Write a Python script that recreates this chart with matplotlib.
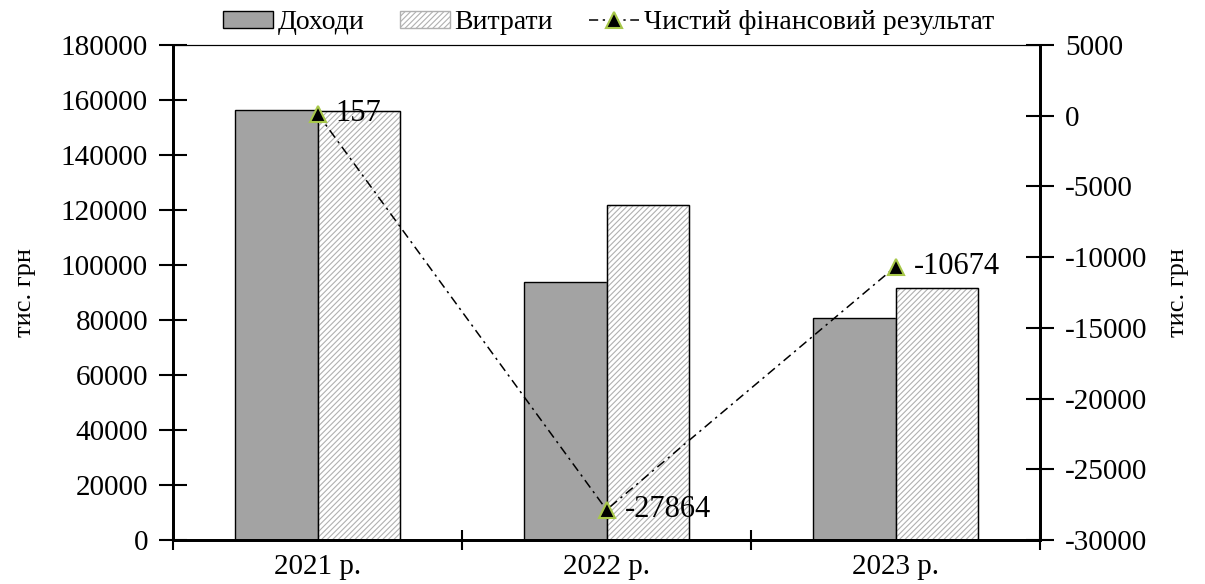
import matplotlib.pyplot as plt
import numpy as np

plt.rcParams['font.family'] = ['Liberation Serif', 'DejaVu Serif']
plt.rcParams['axes.unicode_minus'] = False

years = ['2021 р.', '2022 р.', '2023 р.']
income = [156250, 94000, 80800]
expenses = [156093, 121864, 91474]
net_result = [157, -27864, -10674]

fig = plt.figure(figsize=(12.05, 5.84), dpi=100)
ax = fig.add_axes([0.1436, 0.0753, 0.7195, 0.8476])
ax2 = ax.twinx()

x = np.arange(len(years))
w = 0.287

plt.rcParams['hatch.color'] = '#b0b0b0'
plt.rcParams['hatch.linewidth'] = 0.8
b1 = ax.bar(x - w / 2, income, w, color='#a3a3a3', edgecolor='black', linewidth=1.0, label='Доходи')
b2 = ax.bar(x + w / 2, expenses, w, color='white', edgecolor='black', linewidth=1.0,
            hatch='//////', label='Витрати')
for b in b2:
    b.set_edgecolor('#b0b0b0')
    ax.add_patch(plt.Rectangle(b.get_xy(), b.get_width(), b.get_height(),
                               fill=False, edgecolor='black', linewidth=1.0, zorder=3))

ln, = ax2.plot(x, net_result, color='black', linestyle=(0, (6, 3, 1.5, 3)), linewidth=1.1,
               marker='^', markersize=11, markerfacecolor='black',
               markeredgecolor='#a8c84a', markeredgewidth=1.5,
               label='Чистий фінансовий результат')
for xi, v in zip(x, net_result):
    ax2.annotate(str(v), (xi, v), xytext=(13, 0), textcoords='offset points',
                 va='center', ha='left', fontsize=22)

ax.set_xlim(-0.5, 2.5)
ax.set_ylim(0, 180000)
ax.set_yticks(np.arange(0, 180001, 20000))
ax2.set_ylim(-30000, 5000)
ax2.set_yticks(np.arange(-30000, 5001, 5000))

ax.set_xticks(x)
ax.set_xticklabels(years, fontsize=21)
ax.set_xticks([-0.5, 0.5, 1.5, 2.5], minor=True)
ax.tick_params(axis='x', which='major', length=0, pad=10)
ax.tick_params(axis='x', which='minor', direction='inout', length=14, width=1.5)
ax.tick_params(axis='y', direction='inout', length=20, width=1.5, labelsize=21, pad=8)
ax2.tick_params(axis='y', direction='inout', length=20, width=1.5, labelsize=21, pad=8)

for a in (ax, ax2):
    a.spines['left'].set_linewidth(2)
    a.spines['right'].set_linewidth(2)
    a.spines['bottom'].set_linewidth(2)
    a.spines['top'].set_linewidth(0.8)

ax.set_ylabel('тис. грн', fontsize=19, labelpad=18)
ax2.set_ylabel('тис. грн', fontsize=19, rotation=90, labelpad=14)

fig.legend(handles=[b1, b2, ln], loc='upper center', bbox_to_anchor=(0.505, 1.025),
           ncol=3, frameon=False, fontsize=20, handlelength=1.8, handleheight=0.6,
           columnspacing=1.3, handletextpad=0.15)

fig.savefig('out.png', dpi=100)
